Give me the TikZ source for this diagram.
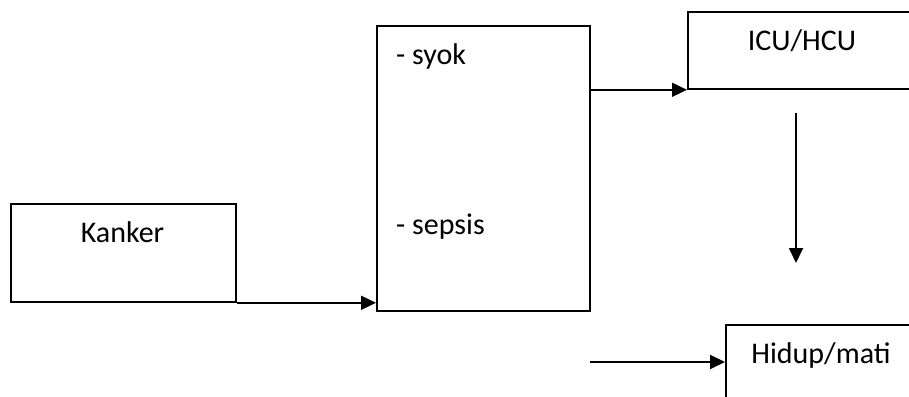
\documentclass[tikz,border=0pt]{standalone}
\usepackage{fontspec}
\setmainfont{Carlito}
\usetikzlibrary{arrows.meta}
\tikzset{
  boxnode/.style={draw=black, line width=1.8pt, rectangle, inner sep=0pt, anchor=north west},
  txt/.style={inner sep=0pt, font=\fontsize{30}{34}\selectfont},
  conn/.style={draw=black, line width=1.8pt, -{Triangle[length=15pt,width=14pt]}}
}
\begin{document}
\begin{tikzpicture}[x=1pt,y=-1pt]
\useasboundingbox (0,0) rectangle (909,396);
\clip (0,0) rectangle (909,396);
% boxes
\node[boxnode, minimum width=225pt, minimum height=98pt] (kanker) at (10,203) {};
\node[boxnode, minimum width=213pt, minimum height=285pt] (mid) at (376,25) {};
\node[boxnode, minimum width=232pt, minimum height=77pt] (icu) at (687,11) {};
\node[boxnode, minimum width=195pt, minimum height=110pt] (hidup) at (725,324) {};
% texts
\node[txt, anchor=base] (tkanker) at (122.5,242) {Kanker};
\node[txt, anchor=base west] (tsyok) at (396,64) {- syok};
\node[txt, anchor=base west] (tsepsis) at (396,234) {- sepsis};
\node[txt, anchor=base] (ticu) at (802,50) {ICU/HCU};
\node[txt, anchor=base] (thidup) at (821,363) {Hidup/mati};
% free ends
\coordinate (v1) at (796,113);
\coordinate (v2) at (796,263);
\coordinate (b1) at (590,362);
% connectors
\draw[conn] (kanker.south east) -- (kanker.south east -| mid.west);
\draw[conn] (icu.south west -| mid.east) -- (icu.south west);
\draw[conn] (v1) -- (v2);
\draw[conn] (b1) -- (b1 -| hidup.west);
\end{tikzpicture}
\end{document}
